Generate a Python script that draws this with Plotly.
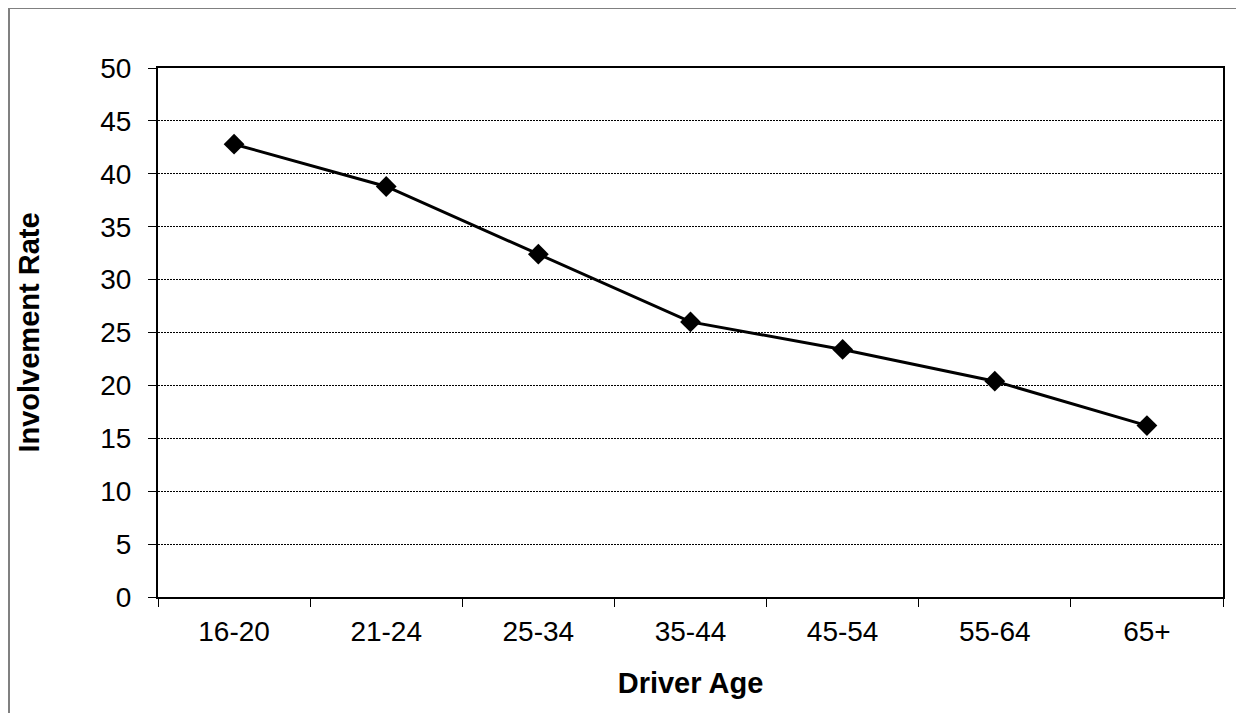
import plotly.graph_objects as go

age_groups = ["16-20", "21-24", "25-34", "35-44", "45-54", "55-64", "65+"]
involvement_rate = [42.8, 38.8, 32.4, 26.0, 23.4, 20.4, 16.2]
y_ticks = [0, 5, 10, 15, 20, 25, 30, 35, 40, 45, 50]

# page body has an 8px margin, so the figure is drawn at (8, 8)
W, H = 1228, 705
L, R, T, B = 150, 13, 60, 116
pw, ph = W - L - R, H - T - B

def px_to_paper_x(px):
    return (px - L) / pw

def px_to_paper_y(py):
    return (H - B - py) / ph

fig = go.Figure()
fig.add_trace(go.Scatter(
    x=age_groups, y=involvement_rate, mode="lines+markers",
    line=dict(color="black", width=3),
    marker=dict(symbol="diamond", size=16, color="black"),
    showlegend=False,
))

font_family = "Liberation Sans, Arial, sans-serif"

fig.update_layout(
    width=W, height=H,
    margin=dict(l=L, r=R, t=T, b=B),
    paper_bgcolor="white", plot_bgcolor="white",
    font=dict(family=font_family, color="black", size=28),
    xaxis=dict(
        type="category", tickson="boundaries", ticks="outside", ticklen=8,
        tickwidth=1, tickcolor="black", showline=True, linecolor="black",
        linewidth=2, mirror=True, showgrid=False,
        tickfont=dict(size=28), ticklabelstandoff=8,
        title=dict(text="<b>Driver Age</b>", font=dict(size=29), standoff=27),
        range=[-0.5, 6.5],
    ),
    yaxis=dict(
        range=[0, 50], tickvals=y_ticks, ticks="outside", ticklen=8,
        tickwidth=1, tickcolor="black", showline=True, linecolor="black",
        linewidth=2, mirror=True, showgrid=True, gridcolor="black",
        gridwidth=1, griddash="2px,1px", zeroline=False,
        tickfont=dict(size=28), ticklabelstandoff=11,
        title=dict(text="<b>Involvement Rate</b>", font=dict(size=29), standoff=52),
    ),
    shapes=[dict(
        type="rect", xref="paper", yref="paper",
        x0=px_to_paper_x(1), x1=px_to_paper_x(1260),
        y0=px_to_paper_y(760), y1=px_to_paper_y(0),
        line=dict(color="#808080", width=2), fillcolor="rgba(0,0,0,0)",
        layer="below",
    )],
)

fig.write_html("out.html")
